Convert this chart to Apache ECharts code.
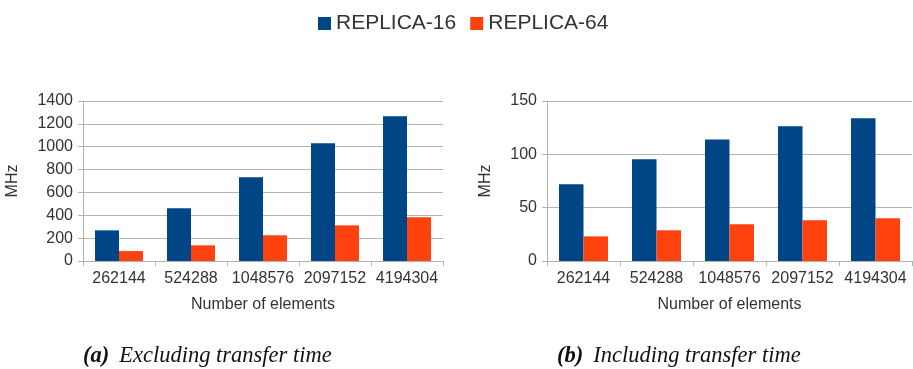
<!DOCTYPE html>
<html>
<head>
<meta charset="utf-8">
<script src="https://cdn.jsdelivr.net/npm/echarts@6/dist/echarts.min.js"></script>
<style>
html,body{margin:0;padding:0;background:#fff;}
#c{width:913px;height:369px;}
</style>
</head>
<body>
<div id="c"></div>
<script>
const categories = ['262144', '524288', '1048576', '2097152', '4194304'];
const seriesNames = ['REPLICA-16', 'REPLICA-64'];
// (a) Excluding transfer time
const exclR16 = [268, 461, 732, 1030, 1266];
const exclR64 = [87, 137, 225, 312, 382];
// (b) Including transfer time
const inclR16 = [72, 95.3, 114, 126.3, 133.8];
const inclR64 = [23.1, 28.8, 34.4, 38.2, 40];
const yTicksA = {min: 0, max: 1400, interval: 200};
const yTicksB = {min: 0, max: 150, interval: 50};
const captionA = ['(a)', 'Excluding transfer time'];
const captionB = ['(b)', 'Including transfer time'];

const colors = ['#004586', '#ff420e'];
const txt = '#333333';
const gridCol = '#b3b3b3';
const font = 'Liberation Sans';

function xAxis(gi) {
  return {
    type: 'category', gridIndex: gi, data: categories,
    name: 'Number of elements', nameLocation: 'middle', nameGap: 36,
    nameTextStyle: {color: txt, fontSize: 16, fontFamily: font},
    axisLine: {lineStyle: {color: gridCol}},
    axisTick: {show: true, length: 5, lineStyle: {color: gridCol}},
    axisLabel: {color: txt, fontSize: 16, fontFamily: font, margin: 10, interval: 0}
  };
}
function yAxis(gi, t, gap) {
  return {
    type: 'value', gridIndex: gi, min: t.min, max: t.max, interval: t.interval,
    name: 'MHz', nameLocation: 'middle', nameGap: gap,
    nameTextStyle: {color: txt, fontSize: 16, fontFamily: font},
    axisLine: {show: true, lineStyle: {color: gridCol}},
    axisTick: {show: true, length: 5, lineStyle: {color: gridCol}},
    axisLabel: {color: txt, fontSize: 16, fontFamily: font, margin: 10,
      formatter: function (v) { return String(v); }},
    splitLine: {lineStyle: {color: gridCol}}
  };
}
function bar(name, data, gi, c, w) {
  return {
    name: name, type: 'bar', xAxisIndex: gi, yAxisIndex: gi, data: data,
    barWidth: w, barGap: '0%', itemStyle: {color: c}, animation: false
  };
}
function caption(cap, left) {
  return {
    text: '{b|' + cap[0] + '}  {i|' + cap[1] + '}',
    left: left, top: 340,
    textStyle: {
      fontWeight: 'normal',
      rich: {
        b: {fontFamily: 'Liberation Serif', fontStyle: 'italic', fontWeight: 'bold', fontSize: 22.5, color: '#111'},
        i: {fontFamily: 'Liberation Serif', fontStyle: 'italic', fontWeight: 'normal', fontSize: 22.5, color: '#111'}
      }
    }
  };
}

const chart = echarts.init(document.getElementById('c'), null, {renderer: 'canvas'});
chart.setOption({
  animation: false,
  backgroundColor: '#ffffff',
  color: colors,
  title: [caption(captionA, 78), caption(captionB, 552)],
  legend: {
    data: seriesNames, left: 313, top: 8,
    itemWidth: 13, itemHeight: 13, itemGap: 14,
    icon: 'rect',
    textStyle: {color: txt, fontSize: 21, fontFamily: font}
  },
  grid: [
    {left: 83, right: 470, top: 101, bottom: 108},
    {left: 547, right: 1, top: 101, bottom: 108}
  ],
  xAxis: [xAxis(0), xAxis(1)],
  yAxis: [yAxis(0, yTicksA, 62), yAxis(1, yTicksB, 53)],
  series: [
    bar(seriesNames[0], exclR16, 0, colors[0], 24),
    bar(seriesNames[1], exclR64, 0, colors[1], 24),
    bar(seriesNames[0], inclR16, 1, colors[0], 24.5),
    bar(seriesNames[1], inclR64, 1, colors[1], 24.5)
  ]
});
</script>
</body>
</html>
